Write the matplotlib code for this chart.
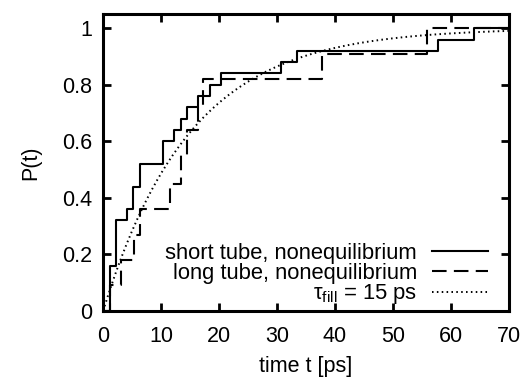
import numpy as np
import matplotlib.pyplot as plt

plt.rcParams['font.family'] = ['Liberation Sans', 'DejaVu Sans']
plt.rcParams['mathtext.fontset'] = 'custom'
plt.rcParams['mathtext.rm'] = 'Liberation Sans'
plt.rcParams['mathtext.it'] = 'Liberation Sans:italic'

# 短管 (25 events): 跳变时间 / 累积概率
short_t = [0, 1.2, 2.2, 4.2, 5.2, 6.3, 10.3, 12.3, 13.5, 14.4, 16.3, 18.4, 20.4, 30.6, 33.5, 57.8, 63.9, 70]
short_p = [0, 0.16, 0.32, 0.36, 0.44, 0.52, 0.60, 0.64, 0.68, 0.72, 0.76, 0.80, 0.84, 0.88, 0.92, 0.96, 1.0, 1.0]

# 长管 (11 events)
long_t = [0, 1.2, 3.1, 5.4, 6.3, 11.5, 13.4, 14.4, 16.3, 17.3, 37.7, 55.8, 70]
long_p = [0, 0.09, 0.18, 0.27, 0.36, 0.45, 0.55, 0.64, 0.73, 0.82, 0.91, 1.0, 1.0]

# 拟合曲线 P(t) = 1 - exp(-t/tau)
tau_fill = 15
t = np.linspace(0, 70, 400)
p_fit = 1 - np.exp(-t / tau_fill)

xticks = [0, 10, 20, 30, 40, 50, 60, 70]
yticks = [0, 0.2, 0.4, 0.6, 0.8, 1]
ytick_labels = ['0', '0.2', '0.4', '0.6', '0.8', '1']

fig = plt.figure(figsize=(5.29, 3.81), dpi=100)
ax = fig.add_axes([0.195, 0.184, 0.767, 0.779])

ax.step(short_t, short_p, where='post', color='black', lw=1.5,
        label='short tube, nonequilibrium')
ax.step(long_t, long_p, where='post', color='black', lw=1.5,
        dashes=(7, 3.5), label='long tube, nonequilibrium')
ax.plot(t, p_fit, color='black', lw=1.4, dashes=(0.8, 1.7),
        label='τ$_{\\rm fill}$ = 15 ps')

ax.set_xlim(0, 70)
ax.set_ylim(0, 1.05)
ax.set_xticks(xticks)
ax.set_yticks(yticks)
ax.set_yticklabels(ytick_labels)
ax.tick_params(direction='in', top=True, right=True, length=6, width=2,
               labelsize=15.5, pad=8)
ax.tick_params(axis='x', pad=11)
for s in ax.spines.values():
    s.set_linewidth(2.2)

ax.set_xlabel('time t [ps]', fontsize=15.5, labelpad=6)
ax.set_ylabel('P(t)', fontsize=15.5, labelpad=15)

leg = ax.legend(loc='lower right', bbox_to_anchor=(0.948, 0.015),
                frameon=False, markerfirst=False, fontsize=15.8,
                handlelength=2.55, handletextpad=0.68, labelspacing=-0.05,
                borderpad=0, borderaxespad=0)

plt.savefig('out.png', dpi=100)
